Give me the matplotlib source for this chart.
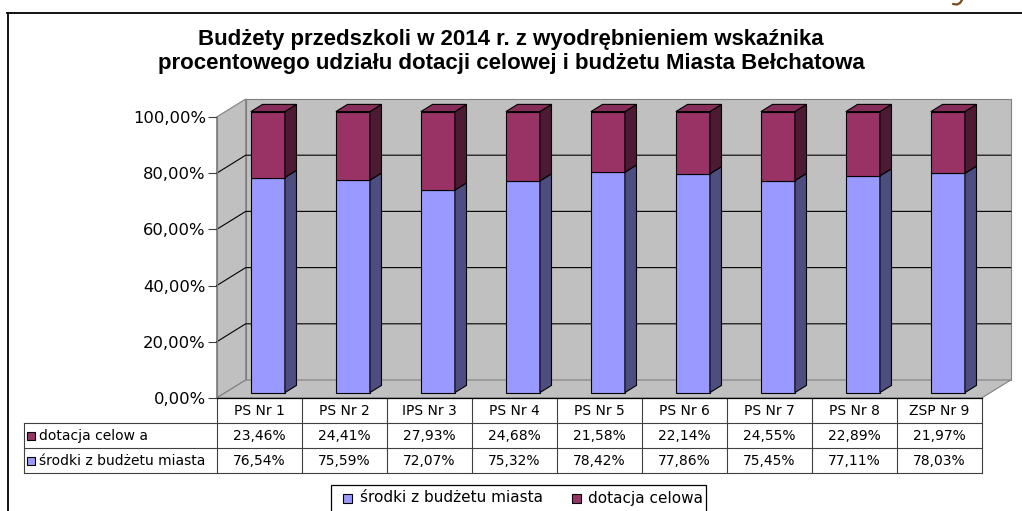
import matplotlib
matplotlib.use("Agg")
import matplotlib.pyplot as plt
from matplotlib.lines import Line2D
from matplotlib.patches import Polygon, Rectangle

# preschool budgets 2014 - share of city budget vs. targeted subsidy (in %)
categories = ["PS Nr 1", "PS Nr 2", "IPS Nr 3", "PS Nr 4", "PS Nr 5",
              "PS Nr 6", "PS Nr 7", "PS Nr 8", "ZSP Nr 9"]
srodki_miasta = [76.54, 75.59, 72.07, 75.32, 78.42, 77.86, 75.45, 77.11, 78.03]
dotacja_celowa = [23.46, 24.41, 27.93, 24.68, 21.58, 22.14, 24.55, 22.89, 21.97]
y_ticks = [0, 20, 40, 60, 80, 100]
series_names = ["środki z budżetu miasta", "dotacja celowa"]
row_names = ["dotacja celow a", "środki z budżetu miasta"]
title_lines = ["Budżety przedszkoli w 2014 r. z wyodrębnieniem wskaźnika",
               "procentowego udziału dotacji celowej i budżetu Miasta Bełchatowa"]

W, H = 1022, 511
LAV, LAV_SIDE = "#9999ff", "#4d4d80"
MAR, MAR_SIDE, MAR_TOP = "#993366", "#4d1a33", "#862d59"
WALL, WALL_EDGE = "#c0c0c0", "#808080"


def pct(v):
    return f"{v:.2f}%".replace(".", ",")


fig = plt.figure(figsize=(W / 100, H / 100), dpi=100)
ax = fig.add_axes([216.7 / W, 113 / H, 765 / W, 281 / H])
ax.set_xlim(0, len(categories))
ax.set_ylim(0, 100)
ax.set_facecolor("none")
for s in ("top", "right", "bottom"):
    ax.spines[s].set_visible(False)
ax.spines["left"].set_color(WALL_EDGE)
ax.set_xticks([])
ax.set_yticks(y_ticks)
ax.set_yticklabels([pct(v) for v in y_ticks])
ax.tick_params(axis="y", length=6.8, width=0.8, color="#404040", pad=1,
               labelsize=11.8)

bbox = ax.get_position()
PX_X = bbox.width * W / len(categories)   # pixels per category
PX_Y = bbox.height * H / 100              # pixels per percent
ROW = 25 / (bbox.height * H)              # table row height, axes fraction


def depth(frac):
    # oblique 3-D offset, right and up
    return frac * 29 / PX_X, frac * 18 / PX_Y


def poly(pts, fc, ec, lw=0.8, z=1):
    ax.add_patch(Polygon(pts, closed=True, facecolor=fc, edgecolor=ec,
                         linewidth=lw, clip_on=False, zorder=z))


n = len(categories)
dx, dy = depth(1)
# walls and floor
poly([(dx, dy), (n + dx, dy), (n + dx, 100 + dy), (dx, 100 + dy)], WALL, WALL_EDGE)
poly([(0, 0), (dx, dy), (dx, 100 + dy), (0, 100)], WALL, WALL_EDGE)
poly([(0, 0), (n, 0), (n + dx, dy), (dx, dy)], WALL, WALL_EDGE)
for t in y_ticks[1:-1]:
    ax.plot([0, dx, n + dx], [t, t + dy, t + dy], color="black", lw=0.8,
            clip_on=False, zorder=1.5)
ax.plot([0, n], [0, 0], color="black", lw=0.9, clip_on=False, zorder=3)

# stacked 3-D columns
bw = 0.4
d1x, d1y = depth(0.3)
d2x, d2y = depth(0.7)
for i in range(n):
    x0 = i + 0.5 - bw / 2
    segs = [(0, srodki_miasta[i], LAV, LAV_SIDE),
            (srodki_miasta[i], srodki_miasta[i] + dotacja_celowa[i], MAR, MAR_SIDE)]
    for b, t, fc, sc in segs:
        poly([(x0 + d1x, b + d1y), (x0 + bw + d1x, b + d1y),
              (x0 + bw + d1x, t + d1y), (x0 + d1x, t + d1y)], fc, "black", z=2)
        poly([(x0 + bw + d1x, b + d1y), (x0 + bw + d2x, b + d2y),
              (x0 + bw + d2x, t + d2y), (x0 + bw + d1x, t + d1y)], sc, "black", z=2)
    top = srodki_miasta[i] + dotacja_celowa[i]
    poly([(x0 + d1x, top + d1y), (x0 + bw + d1x, top + d1y),
          (x0 + bw + d2x, top + d2y), (x0 + d2x, top + d2y)], MAR_TOP, "black", z=2)

# data table under the plot
tr = ax.get_xaxis_transform()
label_x = -(216.7 - 24.3) / PX_X
tcol = "#404040"
for k in range(n + 1):
    ax.plot([k, k], [0, -3 * ROW], color=tcol, lw=0.8, transform=tr, clip_on=False)
ax.plot([label_x, label_x], [-ROW, -3 * ROW], color=tcol, lw=0.8, transform=tr,
        clip_on=False)
for r in (1, 2, 3):
    ax.plot([label_x, n], [-r * ROW, -r * ROW], color=tcol, lw=0.8, transform=tr,
            clip_on=False)
for i, c in enumerate(categories):
    ax.text(i + 0.5, -0.5 * ROW, c, ha="center", va="center", fontsize=10,
            transform=tr)
    ax.text(i + 0.5, -1.5 * ROW, pct(dotacja_celowa[i]), ha="center",
            va="center", fontsize=10, transform=tr)
    ax.text(i + 0.5, -2.5 * ROW, pct(srodki_miasta[i]), ha="center",
            va="center", fontsize=10, transform=tr)
sq_w, sq_h = 8 / PX_X, 8 / (bbox.height * H)
for r, (name, col) in enumerate(zip(row_names, [MAR, LAV])):
    yc = -(1.5 + r) * ROW
    ax.add_patch(Rectangle((label_x + 3 / PX_X, yc - sq_h / 2), sq_w, sq_h,
                           facecolor=col, edgecolor="black", lw=0.8,
                           transform=tr, clip_on=False))
    ax.text(label_x + 15 / PX_X, yc, name, ha="left", va="center", fontsize=10,
            transform=tr)

# legend box at the bottom
fig.add_artist(Rectangle((331 / W, 1 - 512 / H), 375 / W, 27 / H, fill=False,
                         edgecolor="black", lw=0.9, transform=fig.transFigure))
for (x_sq, x_txt), name, col in zip([(343, 360), (572, 588)], series_names, [LAV, MAR]):
    fig.add_artist(Rectangle((x_sq / W, 1 - 502.5 / H), 8.5 / W, 8.5 / H,
                             facecolor=col, edgecolor="black", lw=0.8,
                             transform=fig.transFigure))
    fig.text(x_txt / W, 1 - 498 / H, name, ha="left", va="center", fontsize=11)

# chart frame and title
fig.add_artist(Line2D([7 / W, 1], [1 - 13.3 / H] * 2, color="black", lw=1.3))
fig.add_artist(Line2D([8 / W] * 2, [1 - 13.3 / H, 0], color="black", lw=1.3))
for k, line in enumerate(title_lines):
    fig.text(0.5, 1 - (44.5 + 25 * k) / H, line, ha="center", va="baseline",
             fontsize=16, fontweight="bold", family="Liberation Sans")
# small brown stroke peeking in at the top-right corner
fig.add_artist(Line2D([962 / W, 960 / W, 957 / W, 953 / W],
                      [1, 1 - 3 / H, 1 - 4.5 / H, 1 - 4 / H],
                      color="#7a4a1a", lw=1.6, solid_capstyle="round"))

fig.savefig("out.png", dpi=100)
